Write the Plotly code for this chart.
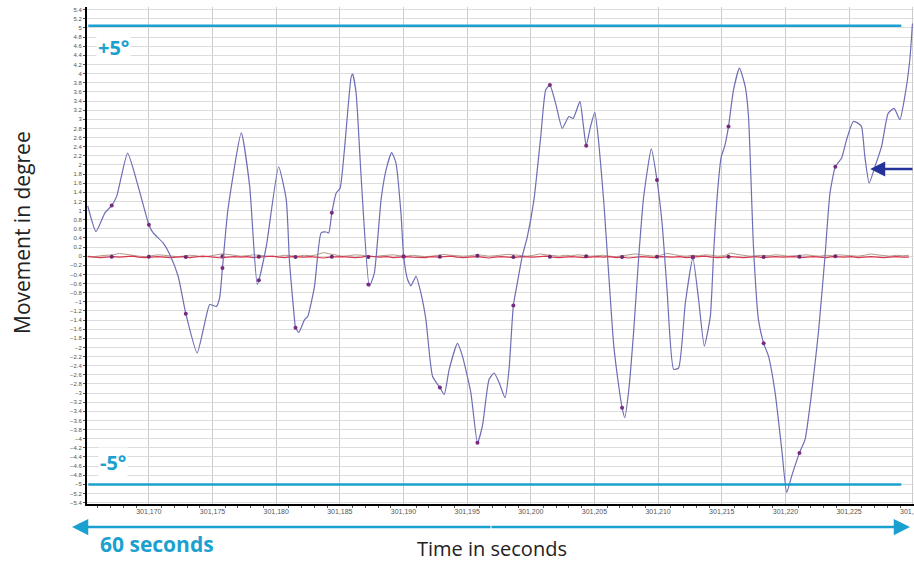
import plotly.graph_objects as go

# ---------------- data ----------------
t_main = [301165.20, 301165.85, 301166.55, 301167.08, 301167.47, 301168.33, 301169.16, 301170.00,
          301170.34, 301171.12, 301171.65, 301172.30, 301172.90, 301173.79, 301174.39, 301174.78,
          301175.31, 301175.56, 301175.78, 301176.21, 301177.26, 301177.92, 301178.52, 301179.22,
          301180.19, 301180.79, 301181.05, 301181.44, 301181.52, 301181.78, 301182.23, 301182.48,
          301183.01, 301183.53, 301183.93, 301184.13, 301184.37, 301184.71, 301185.02, 301185.36,
          301185.89, 301186.01, 301186.28, 301186.67, 301187.32, 301187.71, 301188.24, 301188.63,
          301189.07, 301189.41, 301189.80, 301190.01, 301190.32, 301190.59, 301190.98, 301191.37,
          301191.76, 301192.28, 301192.86, 301193.20, 301193.59, 301194.24, 301194.63, 301195.29,
          301195.81, 301196.20, 301196.72, 301197.12, 301197.51, 301197.98, 301198.29, 301198.63,
          301198.94, 301199.33, 301199.73, 301200.25, 301200.78, 301201.17, 301201.50, 301201.95,
          301202.47, 301202.99, 301203.33, 301203.86, 301204.11, 301204.35, 301204.69, 301205.03,
          301205.34, 301205.74, 301206.13, 301206.52, 301206.91, 301207.17, 301207.38, 301207.70,
          301208.09, 301208.48, 301208.87, 301209.47, 301209.91, 301210.31, 301210.70, 301211.22,
          301211.61, 301212.14, 301212.73, 301213.18, 301213.63, 301214.10, 301214.36, 301214.62,
          301214.96, 301215.22, 301215.53, 301215.92, 301216.39, 301216.84, 301217.10, 301217.49,
          301217.88, 301218.29, 301218.67, 301219.19, 301219.71, 301220.10, 301220.49, 301221.10,
          301221.54, 301222.06, 301222.59, 301223.11, 301223.50, 301223.92, 301224.41, 301224.80,
          301225.33, 301225.72, 301225.98, 301226.24, 301226.58, 301227.03, 301227.55, 301228.07,
          301228.54, 301228.99, 301229.38, 301229.77, 301229.98]
y_main = [1.10, 0.54, 0.95, 1.11, 1.31, 2.26, 1.53, 0.69,
          0.51, 0.29, 0.03, -0.44, -1.26, -2.12, -1.46, -1.06,
          -1.10, -0.91, -0.26, 1.02, 2.70, 1.53, -0.62, 0.21,
          1.96, 1.24, -0.15, -1.39, -1.57, -1.67, -1.39, -1.32,
          -0.66, 0.51, 0.53, 0.51, 0.95, 1.38, 1.49, 2.33,
          3.93, 3.99, 3.57, 1.75, -0.66, -0.37, 1.24, 1.89,
          2.27, 2.04, 0.95, 0.00, -0.51, -0.65, -0.44, -0.81,
          -1.39, -2.63, -2.88, -3.03, -2.48, -1.91, -2.19, -2.99,
          -4.09, -3.72, -2.70, -2.56, -2.77, -3.10, -2.48, -1.08,
          -0.59, 0.00, 0.43, 1.24, 2.62, 3.64, 3.75, 3.35,
          2.80, 3.06, 3.02, 3.39, 2.91, 2.42, 2.84, 3.15,
          2.48, 1.16, -0.44, -1.97, -2.85, -3.32, -3.54, -2.92,
          -1.61, 0.00, 1.31, 2.35, 1.67, 0.73, -0.73, -2.48,
          -2.45, -1.02, -0.04, -0.95, -1.97, -1.32, 0.07, 1.24,
          2.18, 2.40, 2.84, 3.64, 4.12, 3.72, 3.06, 0.21,
          -1.39, -1.91, -2.19, -2.99, -4.23, -5.18, -4.82, -4.31,
          -4.02, -2.99, -1.68, 0.00, 1.38, 1.96, 2.15, 2.55,
          2.95, 2.91, 2.84, 2.18, 1.60, 1.96, 2.40, 3.13,
          3.24, 2.99, 3.50, 4.30, 5.10]

marker_t = [301167.08, 301170.00, 301172.90, 301175.78, 301178.64, 301181.52, 301184.37,
            301187.24, 301190.01, 301192.86, 301195.81, 301198.63, 301201.50, 301204.35,
            301207.17, 301209.91, 301212.73, 301215.53, 301218.29, 301221.10, 301223.92]
marker_v = [1.11, 0.69, -1.26, -0.26, -0.53, -1.57, 0.95,
            -0.62, 0.00, -2.88, -4.09, -1.08, 3.75, 2.42,
            -3.32, 1.67, -0.02, 2.84, -1.91, -4.31, 1.96]
marker_zero = [-0.01, -0.01, -0.02, 0.00, -0.01, -0.02, -0.01,
               -0.02, -0.01, -0.01, 0.01, -0.02, -0.01, 0.00,
               -0.02, -0.01, -0.03, -0.01, -0.02, -0.01, 0.00]

t_noise = [301165.2 + 0.5 * i for i in range(130)]
y_red = [-0.01, -0.02, -0.03, -0.02, -0.01, -0.02, -0.01, 0.00, -0.02, -0.03,
         -0.02, -0.01, -0.02, -0.03, -0.02, -0.01, -0.03, -0.02, 0.00, -0.01,
         -0.02, -0.04, -0.02, -0.01, -0.02, -0.01, -0.03, -0.02, -0.01, 0.00,
         -0.02, -0.03, -0.01, -0.02, -0.02, -0.01, -0.03, -0.04, -0.02, -0.01,
         -0.01, -0.02, -0.03, -0.02, 0.00, -0.01, -0.02, -0.01, -0.03, -0.02,
         -0.01, -0.02, -0.02, -0.03, -0.01, -0.02, -0.01, 0.00, -0.02, -0.03,
         -0.02, -0.01, -0.02, -0.04, -0.02, -0.01, -0.02, -0.03, -0.01, -0.02,
         -0.02, -0.01, 0.00, -0.02, -0.03, -0.02, -0.01, -0.02, -0.03, -0.02,
         -0.01, -0.02, -0.01, -0.03, -0.02, -0.04, -0.02, -0.01, -0.02, -0.03,
         -0.01, -0.02, -0.02, -0.01, -0.03, -0.02, -0.01, 0.00, -0.02, -0.03,
         -0.02, -0.01, -0.02, -0.03, -0.02, -0.01, -0.03, -0.02, -0.01, -0.02,
         -0.02, -0.01, -0.03, -0.02, -0.01, -0.02, -0.03, -0.01, -0.02, -0.02,
         -0.01, -0.03, -0.02, -0.01, -0.02, -0.03, -0.02, -0.01, -0.02, -0.02]
y_brown = [0.00, -0.01, 0.01, 0.02, 0.03, 0.06, 0.04, 0.01, 0.00, -0.01,
           0.01, 0.03, 0.02, 0.00, -0.01, 0.00, 0.02, 0.01, -0.02, 0.00,
           0.02, 0.05, 0.04, 0.02, 0.00, 0.01, 0.03, 0.02, 0.01, -0.01,
           0.00, 0.02, 0.01, 0.00, 0.02, 0.01, 0.03, 0.08, 0.05, 0.02,
           0.00, 0.01, 0.03, 0.02, 0.00, -0.01, 0.01, 0.02, 0.03, 0.01,
           0.00, 0.02, 0.01, -0.01, 0.00, 0.02, 0.04, 0.02, 0.01, 0.00,
           0.01, 0.03, 0.02, 0.00, 0.01, 0.02, 0.04, 0.03, 0.01, 0.00,
           0.02, 0.05, 0.03, 0.01, 0.00, 0.02, 0.01, 0.03, 0.02, 0.00,
           0.01, 0.02, 0.00, -0.01, 0.01, 0.03, 0.05, 0.03, 0.01, 0.00,
           0.02, 0.06, 0.04, 0.01, 0.00, 0.02, 0.01, 0.03, 0.02, 0.00,
           0.01, 0.07, 0.04, 0.02, 0.00, 0.01, 0.02, 0.01, 0.03, 0.02,
           0.00, 0.01, 0.02, 0.03, 0.01, 0.00, 0.02, 0.01, 0.03, 0.02,
           0.01, 0.00, 0.02, 0.05, 0.03, 0.01, 0.00, 0.02, 0.01, 0.02]

limit_upper = 5.05
limit_lower = -5.0
limit_labels = ["+5°", "-5°"]
x_range = [301165.14, 301230.1]
y_range = [-5.43, 5.46]

CYAN = "#1ba1cf"
NAVY = "#24339a"

# page px -> paper coords (plot area spans x 87..914, y 7..504)
PLOT_L, PLOT_W, PLOT_B, PLOT_H = 87, 827, 504, 497
def px(xp):
    return (xp - PLOT_L) / PLOT_W
def py(yp):
    return (PLOT_B - yp) / PLOT_H

fig = go.Figure()
fig.add_trace(go.Scatter(x=t_noise, y=y_brown, mode="lines",
                         line=dict(color="#b39a8a", width=1), hoverinfo="skip"))
fig.add_trace(go.Scatter(x=t_noise, y=y_red, mode="lines",
                         line=dict(color="#d9384f", width=1.2), hoverinfo="skip"))
fig.add_trace(go.Scatter(x=marker_t, y=marker_zero, mode="markers",
                         marker=dict(color="#6a2a70", size=4)))
fig.add_trace(go.Scatter(x=t_main, y=y_main, mode="lines", line_shape="spline",
                         line=dict(color="#6e6eb5", width=1.2, smoothing=0.5)))
fig.add_trace(go.Scatter(x=marker_t, y=marker_v, mode="markers",
                         marker=dict(color="#7a2a80", size=4)))

# limit lines
for yv in (limit_upper, limit_lower):
    fig.add_shape(type="line", xref="x", yref="y", x0=x_range[0] + 0.1, x1=301229.1,
                  y0=yv, y1=yv, line=dict(color=CYAN, width=2.5), layer="above")

fig.add_annotation(x=301167.2, y=4.57, xref="x", yref="y", text="<b>" + limit_labels[0] + "</b>",
                   showarrow=False, font=dict(family="Open Sans", size=20, color=CYAN),
                   bgcolor="white", borderpad=1, xanchor="center", yanchor="middle")
fig.add_annotation(x=301167.2, y=-4.53, xref="x", yref="y", text="<b>" + limit_labels[1] + "</b>",
                   showarrow=False, font=dict(family="Open Sans", size=20, color=CYAN),
                   bgcolor="white", borderpad=1, xanchor="center", yanchor="middle")

# navy arrow pointing left
fig.add_annotation(x=301226.66, y=1.91, xref="x", yref="y", text="", showarrow=True,
                   ax=44, ay=0, arrowhead=2, arrowsize=1.2, arrowwidth=2.5, arrowcolor=NAVY)

# 60 seconds double arrow
fig.add_annotation(x=px(72), y=py(527), xref="paper", yref="paper", text="", showarrow=True,
                   ax=420, ay=0, arrowhead=2, arrowsize=1.3, arrowwidth=2.5, arrowcolor=CYAN)
fig.add_annotation(x=px(910), y=py(527), xref="paper", yref="paper", text="", showarrow=True,
                   ax=-420, ay=0, arrowhead=2, arrowsize=1.3, arrowwidth=2.5, arrowcolor=CYAN)
fig.add_annotation(x=px(157), y=py(544), xref="paper", yref="paper", text="<b>60 seconds</b>",
                   showarrow=False, xanchor="center", yanchor="middle",
                   font=dict(family="Open Sans", size=21, color=CYAN))

fig.add_annotation(x=px(492), y=py(548), xref="paper", yref="paper", text="Time in seconds",
                   showarrow=False, xanchor="center", yanchor="middle",
                   font=dict(family="Open Sans", size=20, color="#222"))
fig.add_annotation(x=px(22), y=py(233), xref="paper", yref="paper", text="Movement in degree",
                   textangle=-90, showarrow=False, xanchor="center", yanchor="middle",
                   font=dict(family="Open Sans", size=21, color="#222"))

fig.update_layout(
    width=914, height=561,
    margin=dict(l=87, r=0, t=7, b=57, autoexpand=False),
    paper_bgcolor="white", plot_bgcolor="white",
    showlegend=False,
    xaxis=dict(range=x_range, tickmode="linear", tick0=301170, dtick=5, tickformat=",d",
               automargin=False, ticklabeloverflow="allow",
               showgrid=True, gridcolor="#cccccc", gridwidth=1,
               showline=True, linecolor="black", linewidth=2, zeroline=False,
               ticks="", tickfont=dict(family="Liberation Sans", size=7, color="#555"),
               minor=dict(ticks="outside", ticklen=2, dtick=1, tickcolor="#555", showgrid=False)),
    yaxis=dict(range=y_range, tickmode="linear", tick0=0, dtick=0.2,
               automargin=False, ticklabeloverflow="allow",
               showgrid=True, gridcolor="#dcdcdc", gridwidth=1,
               showline=True, linecolor="black", linewidth=2, zeroline=False,
               ticks="outside", ticklen=2, tickcolor="#555",
               tickfont=dict(family="Liberation Sans", size=6, color="#555")),
)

fig.write_html("out.html", config={"displayModeBar": False},
               post_script="document.body.style.margin='0';document.body.style.overflow='hidden';")
